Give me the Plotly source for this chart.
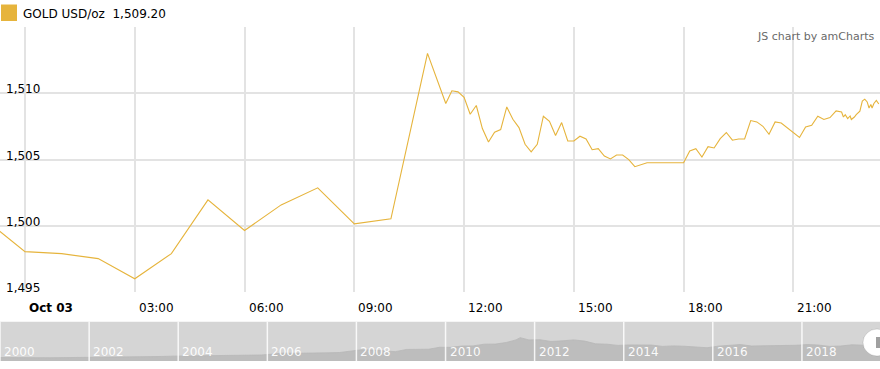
import plotly.graph_objects as go

# ---- main series (GOLD USD/oz, Oct 03) ----
times = [
    "2019-10-02 23:00", "2019-10-03 00:00", "2019-10-03 01:00", "2019-10-03 02:00",
    "2019-10-03 03:00", "2019-10-03 04:00", "2019-10-03 05:00", "2019-10-03 06:00",
    "2019-10-03 07:00", "2019-10-03 08:00", "2019-10-03 09:00", "2019-10-03 10:00",
    "2019-10-03 11:00", "2019-10-03 11:30", "2019-10-03 11:40", "2019-10-03 11:50",
    "2019-10-03 12:00", "2019-10-03 12:10", "2019-10-03 12:20", "2019-10-03 12:30",
    "2019-10-03 12:40", "2019-10-03 12:50", "2019-10-03 13:00", "2019-10-03 13:10",
    "2019-10-03 13:20", "2019-10-03 13:30", "2019-10-03 13:40", "2019-10-03 13:50",
    "2019-10-03 14:00", "2019-10-03 14:10", "2019-10-03 14:20", "2019-10-03 14:30",
    "2019-10-03 14:40", "2019-10-03 14:50", "2019-10-03 15:00", "2019-10-03 15:10",
    "2019-10-03 15:20", "2019-10-03 15:30", "2019-10-03 15:40", "2019-10-03 15:50",
    "2019-10-03 16:00", "2019-10-03 16:10", "2019-10-03 16:20", "2019-10-03 16:30",
    "2019-10-03 16:40", "2019-10-03 16:50", "2019-10-03 17:00", "2019-10-03 18:00",
    "2019-10-03 18:10", "2019-10-03 18:20", "2019-10-03 18:30", "2019-10-03 18:40",
    "2019-10-03 18:50", "2019-10-03 19:00", "2019-10-03 19:10", "2019-10-03 19:20",
    "2019-10-03 19:30", "2019-10-03 19:40", "2019-10-03 19:50", "2019-10-03 20:00",
    "2019-10-03 20:10", "2019-10-03 20:20", "2019-10-03 20:30", "2019-10-03 20:40",
    "2019-10-03 20:50", "2019-10-03 21:00", "2019-10-03 21:10", "2019-10-03 21:20",
    "2019-10-03 21:30", "2019-10-03 21:40", "2019-10-03 21:50", "2019-10-03 22:00",
    "2019-10-03 22:10", "2019-10-03 22:19", "2019-10-03 22:22", "2019-10-03 22:25",
    "2019-10-03 22:29", "2019-10-03 22:33", "2019-10-03 22:35", "2019-10-03 22:40",
    "2019-10-03 22:43", "2019-10-03 22:49", "2019-10-03 22:53", "2019-10-03 22:57",
    "2019-10-03 23:01", "2019-10-03 23:04", "2019-10-03 23:07", "2019-10-03 23:09",
    "2019-10-03 23:12", "2019-10-03 23:16", "2019-10-03 23:20",
]
prices = [
    1500.28, 1498.05, 1497.90, 1497.52,
    1496.00, 1497.90, 1501.96, 1499.65,
    1501.58, 1502.87, 1500.15, 1500.53,
    1513.03, 1509.24, 1510.20, 1510.12,
    1509.70, 1508.43, 1509.09, 1507.35,
    1506.33, 1507.07, 1507.27, 1508.98,
    1508.05, 1507.42, 1506.16, 1505.58,
    1506.16, 1508.28, 1507.90, 1506.82,
    1507.80, 1506.41, 1506.41, 1506.77,
    1506.56, 1505.75, 1505.83, 1505.27,
    1505.05, 1505.35, 1505.35, 1505.00,
    1504.47, 1504.64, 1504.77, 1504.77,
    1505.65, 1505.83, 1505.20, 1505.98,
    1505.88, 1506.59, 1507.05, 1506.47,
    1506.56, 1506.56, 1507.95, 1507.85,
    1507.52, 1506.92, 1507.85, 1507.77,
    1507.42, 1507.07, 1506.67, 1507.47,
    1507.60, 1508.28, 1508.03, 1508.18,
    1508.68, 1508.60, 1508.22, 1508.40,
    1508.10, 1508.30, 1508.03, 1508.22,
    1508.40, 1508.66, 1509.42, 1509.57,
    1509.36, 1508.90, 1509.17, 1508.90,
    1509.24, 1509.47, 1509.20,
]

x_tick_vals = ["2019-10-03 00:00", "2019-10-03 03:00", "2019-10-03 06:00", "2019-10-03 09:00",
               "2019-10-03 12:00", "2019-10-03 15:00", "2019-10-03 18:00", "2019-10-03 21:00"]
x_tick_text = ["<b>Oct 03</b>", "03:00", "06:00", "09:00", "12:00", "15:00", "18:00", "21:00"]
y_tick_vals = [1495, 1500, 1505, 1510, 1515]
y_tick_text = ["1,495", "1,500", "1,505", "1,510", ""]

# ---- navigator (scrollbar) series ----
nav_dates = [
    "2000-01-01",
    "2000-02-15", "2000-05-15", "2000-08-15", "2000-11-15",
    "2001-02-15", "2001-05-15", "2001-08-15", "2001-11-15",
    "2002-02-15", "2002-05-15", "2002-08-15", "2002-11-15",
    "2003-02-15", "2003-05-15", "2003-08-15", "2003-11-15",
    "2004-02-15", "2004-05-15", "2004-08-15", "2004-11-15",
    "2005-02-15", "2005-05-15", "2005-08-15", "2005-11-15",
    "2006-02-15", "2006-05-15", "2006-08-15", "2006-11-15",
    "2007-02-15", "2007-05-15", "2007-08-15", "2007-11-15",
    "2008-02-15", "2008-05-15", "2008-08-15", "2008-11-15",
    "2009-02-15", "2009-05-15", "2009-08-15", "2009-11-15",
    "2010-02-15", "2010-05-15", "2010-08-15", "2010-11-15",
    "2011-02-15", "2011-05-15", "2011-08-01", "2011-09-05", "2011-11-15",
    "2012-02-15", "2012-05-15", "2012-08-15", "2012-11-15",
    "2013-02-15", "2013-05-15", "2013-08-15", "2013-11-15",
    "2014-02-15", "2014-05-15", "2014-08-15", "2014-11-15",
    "2015-02-15", "2015-05-15", "2015-08-15", "2015-11-15",
    "2016-02-15", "2016-05-15", "2016-08-15", "2016-11-15",
    "2017-02-15", "2017-05-15", "2017-08-15", "2017-11-15",
    "2018-02-15", "2018-05-15", "2018-08-15", "2018-11-15",
    "2019-02-15", "2019-05-15", "2019-08-15", "2019-10-03",
]
nav_values = [
    285,
    290, 280, 275, 268,
    262, 268, 275, 280,
    298, 318, 312, 322,
    345, 352, 368, 395,
    405, 392, 405, 440,
    430, 428, 445, 490,
    560, 650, 630, 625,
    660, 665, 690, 800,
    920, 890, 850, 760,
    940, 930, 960, 1120,
    1110, 1220, 1230, 1370,
    1380, 1510, 1720, 1900, 1720,
    1730, 1590, 1640, 1720,
    1620, 1400, 1370, 1270,
    1310, 1290, 1300, 1190,
    1230, 1200, 1130, 1080,
    1210, 1270, 1340, 1220,
    1230, 1260, 1290, 1280,
    1340, 1300, 1190, 1220,
    1320, 1290, 1500, 1505,
]
nav_tick_vals = ["2000-01-01", "2002-01-01", "2004-01-01", "2006-01-01", "2008-01-01",
                 "2010-01-01", "2012-01-01", "2014-01-01", "2016-01-01", "2018-01-01"]
nav_tick_text = ["2000", "2002", "2004", "2006", "2008", "2010", "2012", "2014", "2016", "2018"]

GOLD = "#e6b43c"
FONT = "DejaVu Sans, Verdana, sans-serif"
GRID = "#e3e3e3"

fig = go.Figure()
fig.add_trace(go.Scatter(
    x=times, y=prices, mode="lines",
    line=dict(color=GOLD, width=1.1),
    xaxis="x", yaxis="y", hoverinfo="skip", showlegend=False,
))
fig.add_trace(go.Scatter(
    x=nav_dates, y=nav_values, mode="lines",
    line=dict(color="#b8b8b8", width=0.8), fill="tozeroy", fillcolor="#bdbdbd",
    xaxis="x2", yaxis="y2", hoverinfo="skip", showlegend=False,
))

H = 369
T, B = 27, 8
ph = H - T - B


def py(px):
    """pixel row (from top of page) -> paper y"""
    return (H - B - px) / ph


main_bottom = py(292)
nav_top = py(321.7)

shapes = [
    # navigator background
    dict(type="rect", xref="paper", yref="y2 domain", x0=0, x1=1, y0=0, y1=1,
         fillcolor="#d5d5d5", line=dict(width=0), layer="below"),
    # legend marker
    dict(type="rect", xref="paper", yref="paper",
         x0=1 / 880, x1=17 / 880, y0=py(21), y1=py(4.5),
         fillcolor=GOLD, line=dict(width=0)),
]
for v in nav_tick_vals:
    shapes.append(dict(type="line", xref="x2", yref="y2 domain", x0=v, x1=v, y0=0, y1=1,
                       line=dict(color="rgba(255,255,255,0.85)", width=1.5), layer="above"))
# scrollbar grip
shapes.append(dict(type="circle", xref="paper", yref="paper",
                   x0=(877 - 14) / 880, x1=(877 + 14) / 880,
                   y0=py(356), y1=py(329),
                   fillcolor="white", line=dict(color="rgba(0,0,0,0.12)", width=1), layer="above"))
shapes.append(dict(type="rect", xref="paper", yref="paper",
                   x0=876 / 880, x1=880 / 880,
                   y0=py(348), y1=py(337),
                   fillcolor="#a0a0a0", line=dict(width=0), layer="above"))

annotations = [
    dict(xref="paper", yref="paper", x=21 / 880, y=py(14),
         xanchor="left", yanchor="middle", showarrow=False,
         text=f"GOLD USD/oz  {prices[-1]:,.2f}", font=dict(family=FONT, size=12, color="#000")),
    dict(xref="paper", yref="paper", x=876 / 880, y=py(36.5),
         xanchor="right", yanchor="middle", showarrow=False,
         text="JS chart by amCharts", font=dict(family=FONT, size=11, color="#6a6a6a")),
]
# value-axis labels (inside, sitting just above their grid lines)
for v, t in zip(y_tick_vals, y_tick_text):
    if t:
        annotations.append(dict(xref="paper", yref="y", x=4 / 880, y=v, xanchor="left",
                                yanchor="bottom", yshift=-5, showarrow=False, text=t,
                                font=dict(family=FONT, size=12, color="#000")))
# time-axis labels (placed right of their grid lines, as in amCharts)
for v, t in zip(x_tick_vals, x_tick_text):
    annotations.append(dict(xref="x", yref="paper", x=v, y=py(307.5), xanchor="left",
                            yanchor="middle", xshift=2, showarrow=False, text=t,
                            font=dict(family=FONT, size=12, color="#000")))
# navigator year labels
for v, t in zip(nav_tick_vals, nav_tick_text):
    annotations.append(dict(xref="x2", yref="paper", x=v, y=py(351.5), xanchor="left",
                            yanchor="middle", xshift=2, showarrow=False, text=t,
                            font=dict(family=FONT, size=12, color="rgba(255,255,255,0.95)")))

fig.update_layout(
    width=880, height=H, autosize=False,
    margin=dict(l=0, r=0, t=T, b=B, pad=0),
    paper_bgcolor="white", plot_bgcolor="white",
    font=dict(family=FONT, size=12, color="#000"),
    showlegend=False,
    xaxis=dict(
        domain=[0, 1], anchor="y", type="date",
        range=["2019-10-02 23:19", "2019-10-03 23:22"],
        tickvals=x_tick_vals, showticklabels=False, ticks="",
        showgrid=True, gridcolor=GRID, gridwidth=1.5,
        zeroline=False, showline=False,
    ),
    yaxis=dict(
        domain=[main_bottom, 1], anchor="x",
        range=[1495, 1515.02],
        tickvals=y_tick_vals, showticklabels=False, ticks="",
        showgrid=True, gridcolor=GRID, gridwidth=1.5,
        zeroline=False, showline=False,
    ),
    xaxis2=dict(
        domain=[0, 1], anchor="y2", type="date",
        range=["2000-01-01", "2019-10-03"],
        tickvals=nav_tick_vals, showticklabels=False, ticks="",
        showgrid=False, zeroline=False, showline=False,
    ),
    yaxis2=dict(
        domain=[0, nav_top], anchor="x2",
        range=[0, 3200], visible=False, fixedrange=True,
    ),
    shapes=shapes,
    annotations=annotations,
)

fig.write_html("out.html", config=dict(displayModeBar=False))
